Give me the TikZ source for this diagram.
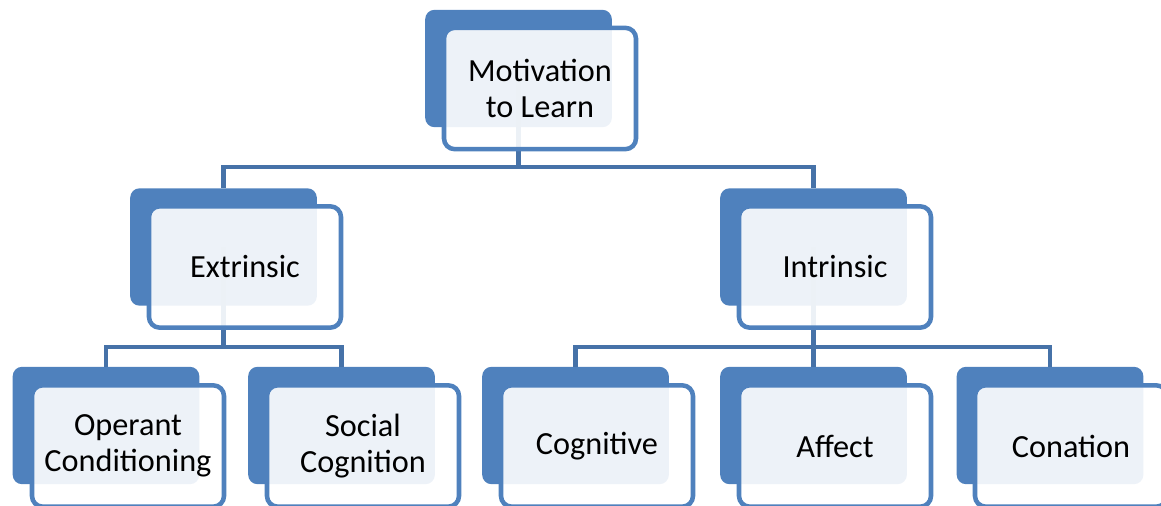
\documentclass[tikz,border=0pt]{standalone}
\usepackage{fontspec}
\setmainfont{Carlito}
\definecolor{boxblue}{HTML}{4F81BD}
\definecolor{lineblue}{HTML}{4672A8}
\tikzset{
	backbox/.style={fill=boxblue, draw=none, rounded corners=7pt, minimum width=140pt, minimum height=88pt},
	frontbox/.style={draw=boxblue, line width=3.4pt, fill=white, fill opacity=0.9, text opacity=1, rounded corners=8pt, minimum width=144pt, minimum height=91pt, align=center, font=\fontsize{24.2}{27}\selectfont},
	link/.style={draw=lineblue, line width=3.5pt}
}
\begin{document}
\begin{tikzpicture}[x=0.75pt, y=-0.75pt]
		\useasboundingbox (0, 0) rectangle (1161, 506);

		% level one
		\coordinate (busTop) at (518.5, 167);
		% level two
		\coordinate (busExt) at (223.5, 347);
		\coordinate (busInt) at (813.5, 347);

		\node[backbox] (motivB) at (518.5, 68.5) {};
		\node[backbox] (extB) at (223.5, 247) {};
		\node[backbox] (intB) at (813.5, 247) {};
		\node[backbox] (operB) at (106, 425.5) {};
		\node[backbox] (socB) at (341.5, 425.5) {};
		\node[backbox] (cogB) at (575.5, 425.5) {};
		\node[backbox] (affB) at (813.5, 425.5) {};
		\node[backbox] (conB) at (1050, 425.5) {};

		\path[link] (motivB.center) -- (busTop) -| (extB.north);
		\path[link] (busTop) -| (intB.north);
		\path[link] (extB.center) -- (busExt) -| (operB.north);
		\path[link] (busExt) -| (socB.north);
		\path[link] (intB.center) -- (busInt) -| (cogB.north);
		\path[link] (busInt) -- (affB.north);
		\path[link] (busInt) -| (conB.north);

		\node[frontbox] (motiv) at (540, 88.5) {Motivation\\to Learn};
		\node[frontbox] (ext) at (245, 267) {Extrinsic};
		\node[frontbox] (int) at (835, 267) {Intrinsic};
		\node[frontbox] (oper) at (128, 446) {Operant\\Conditioning};
		\node[frontbox] (soc) at (363, 446) {Social\\Cognition};
		\node[frontbox] (cog) at (597, 446) {Cognitive};
		\node[frontbox] (aff) at (835, 446) {Affect};
		\node[frontbox] (con) at (1071, 446) {Conation};
	\end{tikzpicture}
\end{document}
